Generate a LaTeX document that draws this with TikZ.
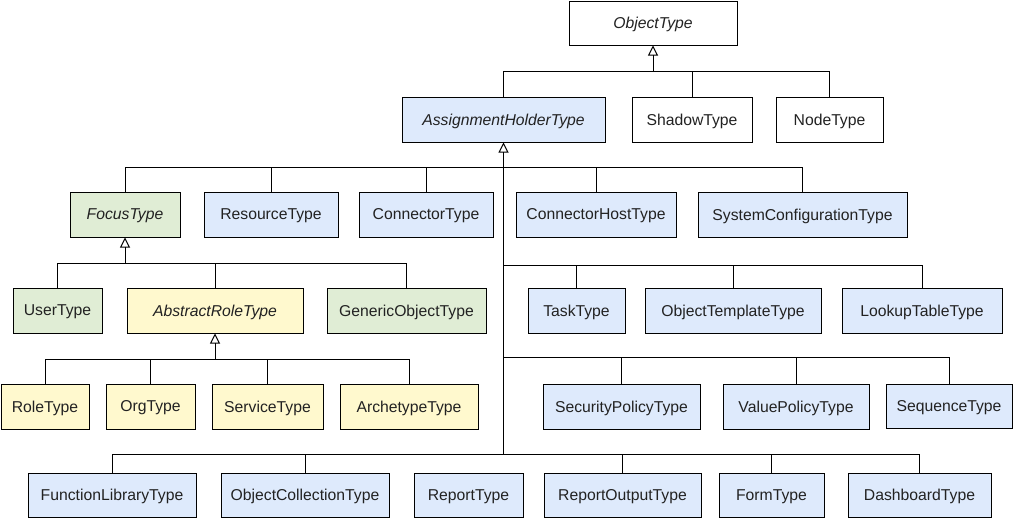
\documentclass[tikz,border=0pt]{standalone}
\usepackage{fontspec}
\setmainfont{Liberation Sans}
\usetikzlibrary{arrows.meta}
\definecolor{bfill}{RGB}{222,234,252}
\definecolor{gfill}{RGB}{224,237,213}
\definecolor{yfill}{RGB}{255,249,206}
\definecolor{txt}{RGB}{34,34,34}
% \bx{style}{name}{x1}{y1}{x2}{y2}{text}
\newcommand\bx[7]{\node[#1,minimum width={(#5-#3)*0.75pt},minimum height={(#6-#4)*0.75pt}]
  (#2) at ({(#3+#5)/2},{(#4+#6)/2}) {#7};}
\begin{document}
\begin{tikzpicture}[x=0.75pt,y=-0.75pt,
  line width=0.75pt,
  box/.style={draw=black,inner sep=0pt,fill=white,text=txt,
    font=\fontsize{11.8}{13}\selectfont,text depth=0pt},
  blue/.style={box,fill=bfill},
  green/.style={box,fill=gfill},
  yellow/.style={box,fill=yfill},
  abs/.style={font=\fontsize{11.8}{13}\selectfont\itshape},
  inh/.style={-{Triangle[open,width=7.5pt,length=7.5pt]}}]
\useasboundingbox (0,0) rectangle (1021,518);
% level 0/1
\bx{box,abs}{ot}{569}{1}{737}{45}{ObjectType}
\bx{blue,abs}{ah}{402}{97}{605}{142}{AssignmentHolderType}
\bx{box}{sh}{632}{97}{752}{142}{ShadowType}
\bx{box}{nt}{776}{97}{883}{142}{NodeType}
% level 2
\bx{green,abs}{ft}{70}{192}{180}{237}{FocusType}
\bx{blue}{rt}{204}{192}{338}{237}{ResourceType}
\bx{blue}{ct}{359}{192}{493}{237}{ConnectorType}
\bx{blue}{ch}{516}{192}{676}{237}{ConnectorHostType}
\bx{blue}{sc}{698}{192}{907}{237}{SystemConfigurationType}
% level 3
\bx{green}{ut}{13}{288}{102}{333}{UserType}
\bx{yellow,abs}{ar}{127}{288}{303}{333}{AbstractRoleType}
\bx{green}{go}{327}{288}{486}{333}{GenericObjectType}
\bx{blue}{tt}{528}{288}{625}{333}{TaskType}
\bx{blue}{otp}{645}{288}{821}{333}{ObjectTemplateType}
\bx{blue}{lt}{842}{288}{1002}{333}{LookupTableType}
% level 4
\bx{yellow}{ro}{1}{384}{89}{429}{RoleType}
\bx{yellow}{og}{106}{384}{195}{429}{OrgType}
\bx{yellow}{sv}{212}{384}{323}{429}{ServiceType}
\bx{yellow}{at}{340}{384}{478}{429}{ArchetypeType}
\bx{blue}{sp}{543}{384}{700}{429}{SecurityPolicyType}
\bx{blue}{vp}{723}{384}{869}{429}{ValuePolicyType}
\bx{blue}{sq}{886}{384}{1012}{428}{SequenceType}
% level 5
\bx{blue}{fl}{28}{473}{196}{517}{FunctionLibraryType}
\bx{blue}{oc}{221}{473}{389}{517}{ObjectCollectionType}
\bx{blue}{rp}{414}{473}{523}{517}{ReportType}
\bx{blue}{ro2}{544}{473}{701}{517}{ReportOutputType}
\bx{blue}{fm}{719}{473}{824}{517}{FormType}
\bx{blue}{db}{848}{473}{991}{517}{DashboardType}
% bus coordinates
\coordinate (b0) at (653,71);
\coordinate (b1) at (503.5,167);
\coordinate (b2) at (503.5,265.5);
\coordinate (b3) at (503.5,357.5);
\coordinate (b4) at (503.5,454.5);
\coordinate (f0) at (125,263.5);
\coordinate (a0) at (215,359);
% ObjectType children
\draw[inh] (b0) -- (ot.south);
\draw (ah.north) |- (nt.north |- b0) -- (nt.north);
\draw (sh.north) -- (sh.north |- b0);
% AssignmentHolderType children
\draw[inh] (b4) -- (ah.south);
\draw (ft.north) |- (sc.north |- b1) -- (sc.north);
\draw (rt.north) -- (rt.north |- b1);
\draw (ct.north) -- (ct.north |- b1);
\draw (ch.north) -- (ch.north |- b1);
\draw (b2) -| (lt.north);
\draw (tt.north) -- (tt.north |- b2);
\draw (otp.north) -- (otp.north |- b2);
\draw (b3) -| (sq.north);
\draw (sp.north) -- (sp.north |- b3);
\draw (vp.north) -- (vp.north |- b3);
\draw (fl.north) |- (db.north |- b4) -- (db.north);
\draw (oc.north) -- (oc.north |- b4);
\draw (ro2.north) -- (ro2.north |- b4);
\draw (fm.north) -- (fm.north |- b4);
% FocusType children
\draw[inh] (f0) -- (ft.south);
\draw (ut.north) |- (go.north |- f0) -- (go.north);
\draw (ar.north) -- (ar.north |- f0);
% AbstractRoleType children
\draw[inh] (a0) -- (ar.south);
\draw (ro.north) |- (at.north |- a0) -- (at.north);
\draw (og.north) -- (og.north |- a0);
\draw (sv.north) -- (sv.north |- a0);
\end{tikzpicture}
\end{document}
